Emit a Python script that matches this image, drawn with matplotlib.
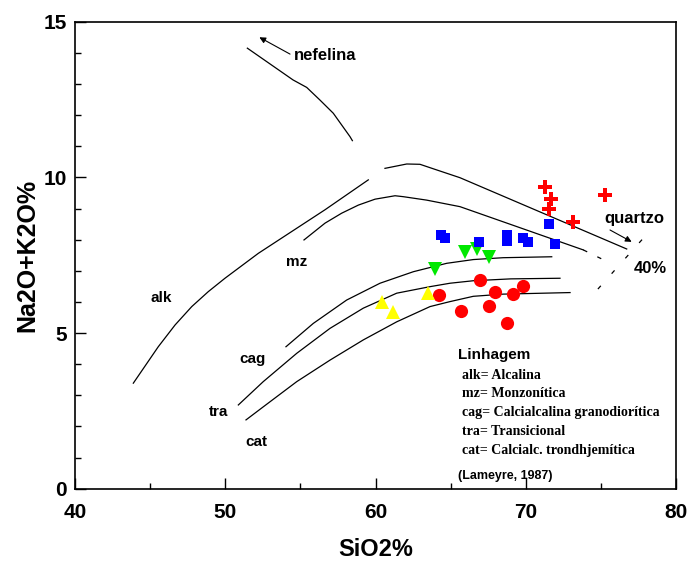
import matplotlib
matplotlib.use('Agg')
import matplotlib.pyplot as plt
from matplotlib.ticker import MultipleLocator

plt.rcParams['font.family'] = 'Liberation Sans'
plt.rcParams['font.weight'] = 'bold'

# Amostras (SiO2 %, Na2O+K2O %)
cruz_x = [71.28, 71.66, 71.57, 75.30, 73.17]
cruz_y = [9.68, 9.30, 8.98, 9.43, 8.58]

quad_x = [64.36, 64.63, 66.89, 68.77, 68.73, 69.84, 70.13, 71.57, 71.95]
quad_y = [8.15, 8.04, 7.93, 8.15, 7.97, 8.06, 7.92, 8.50, 7.86]

tri_inv_x = [65.96, 66.74, 67.58, 63.96]
tri_inv_y = [7.61, 7.70, 7.45, 7.05]

tri_x = [60.45, 61.19, 63.52]
tri_y = [5.99, 5.69, 6.28]

circ_x = [66.96, 64.25, 67.95, 69.13, 69.84, 65.67, 67.58, 68.77]
circ_y = [6.70, 6.22, 6.31, 6.24, 6.51, 5.72, 5.87, 5.33]

# Limites das linhagens (Lameyre, 1987)
nef_x = [51.47, 54.51, 55.42, 56.31, 57.19, 58.30, 58.46]
nef_y = [14.15, 13.13, 12.89, 12.48, 12.06, 11.31, 11.18]

alk1_x = [43.88, 45.54, 46.66, 47.77, 48.87, 49.98, 52.20, 54.42, 56.64, 59.52]
alk1_y = [3.39, 4.56, 5.26, 5.85, 6.33, 6.76, 7.56, 8.26, 8.96, 9.92]
alk2_x = [60.63, 62.08, 62.96, 64.07, 65.62, 76.72]
alk2_y = [10.29, 10.43, 10.42, 10.24, 9.99, 7.70]

mz_x = [55.24, 56.64, 57.75, 58.86, 59.97, 61.30, 61.85, 63.40, 65.62, 73.83]
mz_y = [7.99, 8.53, 8.85, 9.11, 9.30, 9.41, 9.38, 9.27, 9.06, 7.67]
mz_tr_x = [73.83, 75.61]
mz_tr_y = [7.67, 7.25]

cag_x = [54.04, 55.86, 58.08, 60.30, 62.52, 64.74, 66.51, 68.5, 71.73]
cag_y = [4.56, 5.31, 6.06, 6.60, 6.97, 7.24, 7.36, 7.42, 7.45]

tra_x = [50.87, 52.53, 54.76, 56.97, 59.19, 61.41, 63.63, 64.96, 66.51, 69.0, 72.28]
tra_y = [2.69, 3.44, 4.35, 5.15, 5.80, 6.28, 6.49, 6.60, 6.68, 6.74, 6.76]

cat_x = [51.38, 52.53, 54.76, 56.97, 59.19, 61.41, 63.63, 64.96, 66.51, 68.5, 72.95]
cat_y = [2.21, 2.63, 3.44, 4.13, 4.78, 5.36, 5.85, 6.01, 6.18, 6.25, 6.30]

q40_x = [77.74, 74.15]
q40_y = [8.00, 6.06]

legenda = ['alk= Alcalina', 'mz= Monzonítica', 'cag= Calcialcalina granodiorítica',
           'tra= Transicional', 'cat= Calcialc. trondhjemítica']
legenda_y = [3.65, 3.06, 2.44, 1.83, 1.24]

fig = plt.figure(figsize=(6.89, 5.64), dpi=100)
ax = fig.add_axes([0.1089, 0.1335, 0.8722, 0.828])

# curvas
lw = 0.9
for cx, cy in [(nef_x, nef_y), (alk1_x, alk1_y), (alk2_x, alk2_y), (mz_x, mz_y),
               (cag_x, cag_y), (tra_x, tra_y), (cat_x, cat_y)]:
    ax.plot(cx, cy, color='black', lw=lw)
ax.plot(mz_tr_x, mz_tr_y, color='black', lw=lw, dashes=(3.5, 9))
ax.plot(q40_x, q40_y, color='black', lw=lw, dashes=(3.5, 13))

# amostras
ax.plot(circ_x, circ_y, 'o', color='#ff0000', ms=9.5, mew=0, ls='none')
ax.plot(tri_x, tri_y, '^', color='#ffff00', ms=10, mew=0, ls='none')
ax.plot(tri_inv_x, tri_inv_y, 'v', color='#00e800', ms=10, mew=0, ls='none')
ax.plot(quad_x, quad_y, 's', color='#0000ff', ms=6.5, mew=0, ls='none')
ax.plot(cruz_x, cruz_y, 'P', color='#ff0000', ms=10, mew=0, ls='none')

# setas
ax.annotate('', xy=(52.27, 14.50), xytext=(54.31, 13.96),
            arrowprops=dict(arrowstyle='-|>', color='black', lw=0.8,
                            mutation_scale=9, shrinkA=0, shrinkB=0))
ax.annotate('', xy=(77.05, 7.93), xytext=(75.61, 8.31),
            arrowprops=dict(arrowstyle='-|>', color='black', lw=0.8,
                            mutation_scale=9, shrinkA=0, shrinkB=0))

# rotulos
ax.text(56.67, 13.93, 'nefelina', fontsize=12, ha='center', va='center')
ax.text(77.2, 8.67, 'quartzo', fontsize=12, ha='center', va='center')
ax.text(78.27, 7.08, '40%', fontsize=12, ha='center', va='center')
ax.text(45.77, 6.12, 'alk', fontsize=11, ha='center', va='center')
ax.text(54.75, 7.29, 'mz', fontsize=11, ha='center', va='center')
ax.text(51.83, 4.16, 'cag', fontsize=11, ha='center', va='center')
ax.text(49.58, 2.45, 'tra', fontsize=11, ha='center', va='center')
ax.text(52.09, 1.51, 'cat', fontsize=11, ha='center', va='center')

ax.text(65.51, 4.29, 'Linhagem', fontsize=11, ha='left', va='center')
for txt, ty in zip(legenda, legenda_y):
    ax.text(65.74, ty, txt, fontsize=10, family='Liberation Serif',
            weight='bold', ha='left', va='center')
ax.text(65.51, 0.41, '(Lameyre, 1987)', fontsize=9, ha='left', va='center')

ax.set_xlim(40, 80)
ax.set_ylim(0, 15)
ax.xaxis.set_major_locator(MultipleLocator(10))
ax.xaxis.set_minor_locator(MultipleLocator(5))
ax.yaxis.set_major_locator(MultipleLocator(5))
ax.yaxis.set_minor_locator(MultipleLocator(1))
ax.tick_params(which='both', direction='in', width=1, labelsize=15)
ax.tick_params(which='major', length=8)
ax.tick_params(which='minor', length=4.5)
ax.tick_params(axis='x', which='major', pad=10)
ax.tick_params(axis='y', which='major', pad=6)
for s in ax.spines.values():
    s.set_linewidth(1.2)

ax.set_xlabel('SiO2%', fontsize=17, fontweight='bold', labelpad=12)
ax.set_ylabel('Na2O+K2O%', fontsize=18, fontweight='bold', labelpad=3)

plt.savefig('out.png', dpi=100)
